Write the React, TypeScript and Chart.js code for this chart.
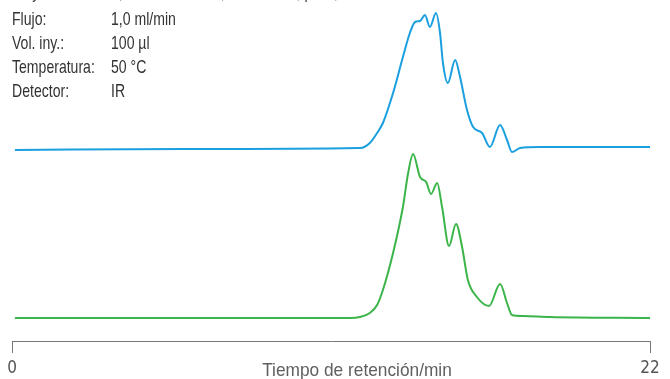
import React, { useEffect, useRef } from "react";
import { Chart, registerables } from "chart.js";

Chart.register(...registerables);

// Retention time (min) and detector signal (baseline-relative units) per trace
const timesBlue = [0.1, 6.0, 12.0, 12.34, 12.59, 12.79, 13.14, 13.48, 13.72, 13.9, 14.07, 14.24, 14.41, 14.62, 14.76, 14.86, 15.03, 15.28, 15.45, 15.69, 15.9, 16.21, 16.48, 16.83, 17.07, 17.24, 17.52, 18.2, 22.0];
const signalBlue = [-1, 0, 1, 6, 16, 26, 56, 92, 116, 127, 128, 134, 122, 136, 116, 86, 66, 89, 72, 39, 22, 16, 2, 24, 9, -3, 1, 2, 2];

const timesGreen = [0.1, 6.0, 11.66, 12.0, 12.34, 12.59, 12.79, 13.14, 13.48, 13.66, 13.83, 14.07, 14.28, 14.45, 14.66, 14.83, 15.07, 15.31, 15.52, 15.72, 16.03, 16.45, 16.83, 17.07, 17.24, 17.62, 18.55, 22.0];
const signalGreen = [0, 0, 0, 1, 5, 13, 28, 65, 111, 145, 164, 141, 136, 124, 135, 111, 72, 94, 71, 38, 21, 12, 34, 15, 3, 2, 1, 0];

// Vertical offset that stacks the blue trace above the green one
const blueOffset = 169;

const axisTicks = [0, 22];
const axisTitle = "Tiempo de retención/min";

const conditionLabels = ["Eluyente:", "Flujo:", "Vol. iny.:", "Temperatura:", "Detector:"];
const conditionValues = ["0,1 M NaNO3 + 0,05 % NaN3, pH 7,0", "1,0 ml/min", "100 µl", "50 °C", "IR"];

const SANS = '"Liberation Sans", Arial, sans-serif';
const CONDENSED = '"DejaVu Sans Condensed", "Liberation Sans Narrow", "Liberation Sans", sans-serif';

// Draws text horizontally compressed to imitate a condensed typeface
function drawText(ctx: CanvasRenderingContext2D, text: string, x: number, y: number, squeeze: number, align: CanvasTextAlign) {
  ctx.save();
  ctx.translate(x, y);
  ctx.scale(squeeze, 1);
  ctx.textAlign = align;
  ctx.fillText(text, 0, 0);
  ctx.restore();
}

const annotations = {
  id: "annotations",
  afterDraw(chart: any) {
    const ctx: CanvasRenderingContext2D = chart.ctx;
    ctx.save();
    ctx.textBaseline = "alphabetic";
    ctx.font = `18.5px ${SANS}`;
    ctx.fillStyle = "#333";
    conditionLabels.forEach((label, i) => {
      const y = i === 0 ? -2 : 1 + 24 * i;
      drawText(ctx, label, 12, y, 0.76, "left");
      drawText(ctx, conditionValues[i], 111, y, 0.76, "left");
    });
    ctx.font = `19px ${SANS}`;
    ctx.fillStyle = "#606060";
    drawText(ctx, axisTitle, 357, 376, 0.91, "center");
    ctx.restore();
  },
};

export default function App() {
  const canvasRef = useRef<HTMLCanvasElement | null>(null);

  useEffect(() => {
    if (!canvasRef.current) return;
    const chart = new Chart(canvasRef.current, {
      type: "line",
      data: {
        datasets: [
          {
            data: timesBlue.map((t, i) => ({ x: t, y: signalBlue[i] + blueOffset })),
            borderColor: "#1a9fdf",
            borderWidth: 2,
            pointRadius: 0,
            cubicInterpolationMode: "monotone",
            fill: false,
          },
          {
            data: timesGreen.map((t, i) => ({ x: t, y: signalGreen[i] })),
            borderColor: "#3bb54a",
            borderWidth: 2,
            pointRadius: 0,
            cubicInterpolationMode: "monotone",
            fill: false,
          },
        ],
      },
      options: {
        responsive: false,
        animation: false,
        layout: { padding: { left: 12, right: 20, top: 0, bottom: 0 } },
        plugins: { legend: { display: false }, tooltip: { enabled: false } },
        scales: {
          x: {
            type: "linear",
            min: 0,
            max: 22,
            position: "bottom",
            grid: {
              display: true,
              drawOnChartArea: false,
              drawTicks: true,
              tickLength: 12,
              color: "#777",
              lineWidth: 1,
            },
            border: { display: true, color: "#777", width: 1 },
            ticks: {
              color: "#555",
              font: { family: CONDENSED, size: 17 },
              padding: 5,
              maxRotation: 0,
              autoSkip: false,
            },
            afterBuildTicks: (scale: any) => {
              scale.ticks = axisTicks.map((v) => ({ value: v }));
            },
            afterFit: (scale: any) => {
              scale.height = 38;
            },
          },
          y: { display: false, min: -23, max: 318 },
        },
      },
      plugins: [annotations],
    });
    return () => chart.destroy();
  }, []);

  return (
    <div style={{ position: "absolute", left: 0, top: 0, width: 670, height: 379, background: "#fff" }}>
      <canvas ref={canvasRef} width={670} height={379} style={{ display: "block" }} />
    </div>
  );
}
